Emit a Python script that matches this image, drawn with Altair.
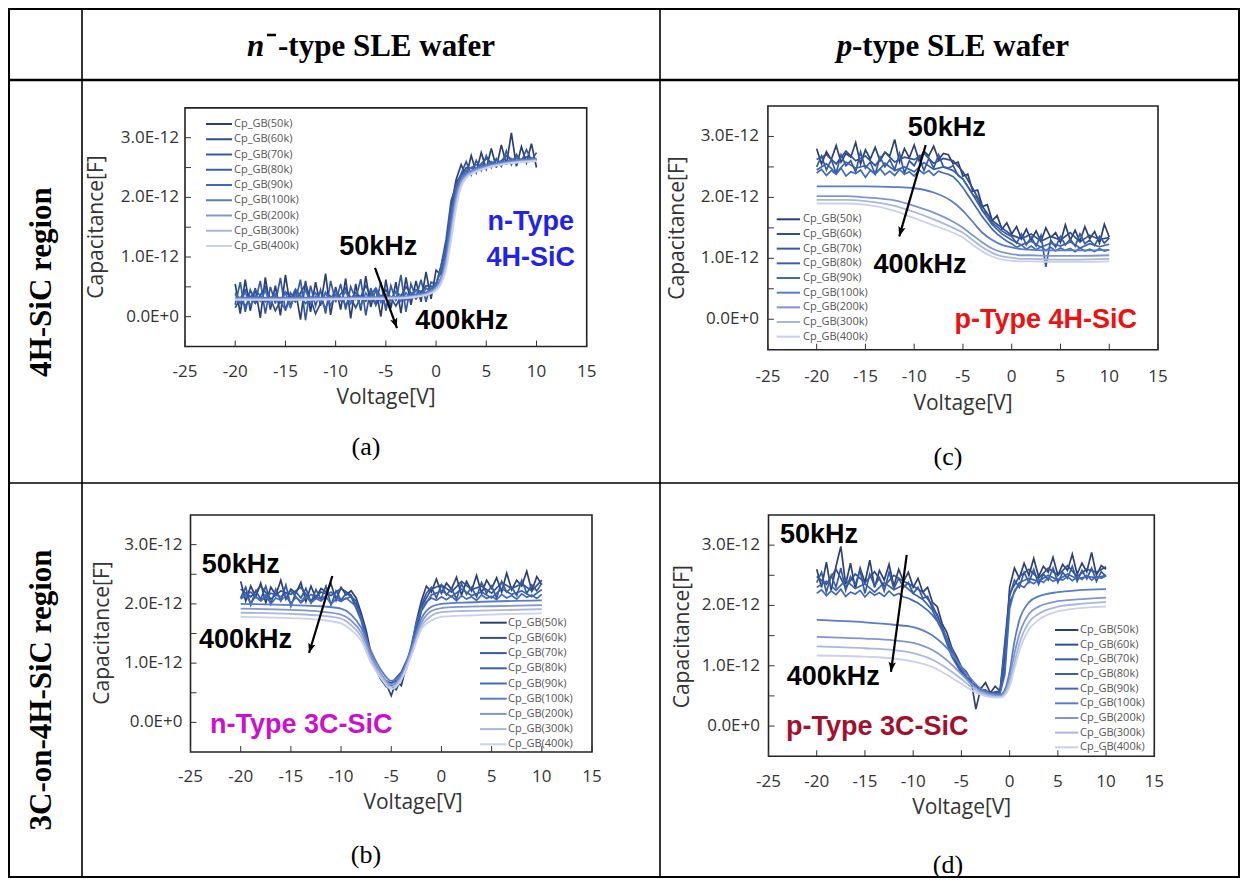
import math
import pandas as pd
import altair as alt

OFF = 8
W, H = 1232, 870

FREQS = ["Cp_GB(50k)", "Cp_GB(60k)", "Cp_GB(70k)", "Cp_GB(80k)", "Cp_GB(90k)",
         "Cp_GB(100k)", "Cp_GB(200k)", "Cp_GB(300k)", "Cp_GB(400k)"]
COLORS = ["#2b3f73", "#2f4f8f", "#3559a3", "#3a5fae", "#4169b8",
          "#5a7cc4", "#8196cf", "#a9b6de", "#c9d1ec"]

XTICK_VALUES = [-25, -20, -15, -10, -5, 0, 5, 10, 15]
XTICK_LABELS = ["-25", "-20", "-15", "-10", "-5", "0", "5", "10", "15"]
YTICK_VALUES = [0, 1, 2, 3]
YTICK_LABELS = ["0.0E+0", "1.0E-12", "2.0E-12", "3.0E-12"]
YTICK_MINOR = [0, 0.5, 1, 1.5, 2, 2.5, 3]

V_HALF = [-20, -19.5, -19, -18.5, -18, -17.5, -17, -16.5, -16, -15.5, -15, -14.5, -14, -13.5,
          -13, -12.5, -12, -11.5, -11, -10.5, -10, -9.5, -9, -8.5, -8, -7.5, -7, -6.5, -6, -5.5,
          -5, -4.5, -4, -3.5, -3, -2.5, -2, -1.5, -1, -0.5, 0, 0.5, 1, 1.5, 2, 2.5, 3, 3.5, 4,
          4.5, 5, 5.5, 6, 6.5, 7, 7.5, 8, 8.5, 9, 9.5, 10]
V_ONE = [-20, -19, -18, -17, -16, -15, -14, -13, -12, -11, -10, -9, -8, -7, -6, -5, -4, -3, -2,
         -1, 0, 1, 2, 3, 4, 5, 6, 7, 8, 9, 10]

# ---------------- (a) n-type 4H-SiC  (values in pF) ----------------
A_50K = [0.55, 0.05, 0.62, 0.10, 0.48, -0.02, 0.66, 0.12, 0.52, 0.02,
         0.70, 0.15, 0.45, -0.05, 0.60, 0.08, 0.58, 0.18, 0.72, 0.03,
         0.50, 0.12, 0.64, -0.03, 0.55, 0.10, 0.68, 0.16, 0.48, 0.00,
         0.62, 0.14, 0.58, 0.06, 0.66, 0.20, 0.60, 0.25, 0.75, 0.30,
         0.78, 0.70, 1.15, 1.85, 2.30, 2.55, 2.35, 2.70, 2.42, 2.75,
         2.48, 2.82, 2.50, 2.88, 2.55, 3.08, 2.52, 2.85, 2.58, 2.90, 2.50]
A_60K = [0.15, 0.45, 0.22, 0.50, 0.10, 0.42, 0.25, 0.55, 0.05, 0.40, 0.28, 0.48, 0.15, 0.52,
         0.20, 0.45, 0.18, 0.50, 0.30, 0.52, 0.50, 1.20, 2.25, 2.50, 2.48, 2.65, 2.52, 2.70,
         2.58, 2.68, 2.62]
A_70K = [0.20, 0.58, 0.08, 0.45, 0.25, 0.60, 0.05, 0.50, 0.22, 0.65,
         0.10, 0.40, 0.28, 0.62, -0.06, 0.52, 0.18, 0.45, 0.05, 0.60,
         0.24, 0.55, 0.12, 0.50, 0.30, 0.63, 0.02, 0.48, 0.20, 0.58,
         0.10, 0.52, 0.26, 0.70, 0.08, 0.55, 0.32, 0.62, 0.25, 0.58,
         0.55, 0.85, 1.30, 1.95, 2.20, 2.40, 2.60, 2.38, 2.62, 2.45,
         2.70, 2.50, 2.65, 2.52, 2.78, 2.55, 2.72, 2.60, 2.80, 2.62, 2.75]
A_80K = [0.40, 0.18, 0.45, 0.25, 0.38, 0.12, 0.46, 0.22, 0.40, 0.15, 0.44, 0.20, 0.40, 0.26,
         0.48, 0.18, 0.42, 0.28, 0.45, 0.40, 0.55, 1.05, 2.15, 2.45, 2.55, 2.50, 2.62, 2.56,
         2.66, 2.60, 2.64]
A_90K = [0.38, 0.22, 0.42, 0.18, 0.35, 0.26, 0.44, 0.20, 0.36, 0.24,
         0.40, 0.16, 0.38, 0.28, 0.45, 0.21, 0.34, 0.25, 0.41, 0.19,
         0.37, 0.27, 0.43, 0.22, 0.35, 0.18, 0.40, 0.26, 0.44, 0.24,
         0.38, 0.28, 0.42, 0.26, 0.40, 0.30, 0.45, 0.33, 0.48, 0.42,
         0.55, 0.78, 1.12, 1.75, 2.18, 2.35, 2.45, 2.50, 2.48, 2.56,
         2.52, 2.60, 2.55, 2.62, 2.58, 2.65, 2.60, 2.64, 2.62, 2.66, 2.63]
A_VS = [-20, -15, -10, -5, -3, -2, -1, -0.5, 0, 0.5, 1, 1.5, 2, 2.5, 3, 4, 5, 7, 10]
A_100K = [0.32, 0.32, 0.32, 0.33, 0.34, 0.36, 0.40, 0.44, 0.50, 0.66, 0.98, 1.55, 2.05, 2.30, 2.40, 2.48, 2.53, 2.60, 2.65]
A_200K = [0.30, 0.30, 0.31, 0.32, 0.33, 0.35, 0.38, 0.42, 0.48, 0.62, 0.92, 1.45, 1.98, 2.26, 2.37, 2.46, 2.51, 2.58, 2.63]
A_300K = [0.29, 0.29, 0.30, 0.31, 0.32, 0.34, 0.37, 0.40, 0.46, 0.58, 0.86, 1.36, 1.90, 2.22, 2.34, 2.44, 2.50, 2.57, 2.62]
A_400K = [0.28, 0.28, 0.29, 0.30, 0.31, 0.33, 0.36, 0.39, 0.44, 0.55, 0.80, 1.28, 1.82, 2.18, 2.32, 2.43, 2.49, 2.56, 2.61]

# ---------------- (c) p-type 4H-SiC ----------------
C_50K = [2.80, 2.55, 2.75, 2.62, 2.85, 2.58, 2.72, 2.66, 2.90, 2.55,
         2.78, 2.63, 2.82, 2.60, 2.74, 2.68, 2.95, 2.58, 2.80, 2.65,
         2.86, 2.60, 2.76, 2.68, 2.84, 2.62, 2.72,
         2.70, 2.55, 2.58, 2.35, 2.38, 2.10, 2.12, 1.85, 1.88, 1.62, 1.70, 1.48, 1.58,
         1.40, 1.52, 1.32, 1.48, 1.30, 1.45, 1.28, 1.50, 1.34, 1.42,
         1.26, 1.55, 1.30, 1.46, 1.28, 1.52, 1.32, 1.44, 1.25, 1.56, 1.35]
C_60K = [2.62, 2.70, 2.55, 2.76, 2.60, 2.68, 2.52, 2.74, 2.58, 2.66, 2.62, 2.72, 2.56, 2.64,
         2.60, 2.42, 2.15, 1.85, 1.62, 1.50, 1.38,
         1.32, 1.40, 1.28, 1.36, 1.30, 1.42, 1.27, 1.38, 1.31, 1.34]
C_70K = [2.50, 2.68, 2.45, 2.62, 2.40, 2.70, 2.52, 2.60, 2.42, 2.75,
         2.48, 2.58, 2.38, 2.66, 2.50, 2.62, 2.45, 2.72, 2.40, 2.60,
         2.52, 2.68, 2.44, 2.64, 2.48, 2.70, 2.50,
         2.48, 2.52, 2.36, 2.30, 2.18, 2.05, 1.98, 1.78, 1.72, 1.58, 1.52, 1.45, 1.40,
         1.36, 1.25, 1.40, 1.22, 1.35, 1.20, 1.38, 0.86, 1.30, 1.18,
         1.36, 1.22, 1.32, 1.20, 1.40, 1.24, 1.30, 1.21, 1.36, 1.25, 1.33]
C_80K = [2.45, 2.55, 2.40, 2.58, 2.48, 2.52, 2.38, 2.56, 2.44, 2.50, 2.42, 2.57, 2.46, 2.50,
         2.44, 2.30, 2.05, 1.78, 1.55, 1.40, 1.30,
         1.22, 1.28, 1.18, 1.25, 1.20, 1.27, 1.17, 1.24, 1.19, 1.23]
C_90K = [2.40, 2.46, 2.36, 2.44, 2.38, 2.48, 2.35, 2.42, 2.39, 2.45,
         2.33, 2.44, 2.40, 2.47, 2.37, 2.43, 2.36, 2.46, 2.38, 2.42,
         2.35, 2.45, 2.39, 2.44, 2.36, 2.43, 2.40,
         2.38, 2.34, 2.26, 2.16, 2.04, 1.92, 1.80, 1.68, 1.58, 1.48, 1.40, 1.34, 1.28,
         1.24, 1.18, 1.22, 1.15, 1.20, 1.14, 1.19, 1.13, 1.18, 1.12,
         1.17, 1.13, 1.16, 1.11, 1.17, 1.12, 1.15, 1.11, 1.16, 1.12, 1.14]
C_VS = [-20, -17, -15, -12, -10, -8, -6, -5, -4, -3, -2, -1, 0, 1, 2, 4, 7, 10]
C_100K = [2.18, 2.18, 2.18, 2.17, 2.15, 2.08, 1.92, 1.78, 1.60, 1.42, 1.30, 1.22, 1.18, 1.15, 1.14, 1.13, 1.13, 1.14]
C_200K = [2.02, 2.02, 2.00, 1.95, 1.86, 1.75, 1.60, 1.50, 1.38, 1.26, 1.16, 1.10, 1.07, 1.05, 1.05, 1.04, 1.04, 1.05]
C_300K = [1.96, 1.96, 1.94, 1.86, 1.76, 1.64, 1.50, 1.42, 1.30, 1.18, 1.09, 1.03, 1.01, 0.99, 0.99, 0.98, 0.98, 0.99]
C_400K = [1.90, 1.90, 1.88, 1.78, 1.66, 1.54, 1.42, 1.34, 1.22, 1.11, 1.03, 0.98, 0.96, 0.95, 0.95, 0.94, 0.94, 0.95]

# ---------------- (b) n-type 3C-SiC ----------------
B_50K = [2.38, 2.05, 2.30, 2.12, 2.35, 2.02, 2.28, 2.15, 2.40, 2.08,
         2.25, 2.18, 2.36, 2.04, 2.30, 2.10, 2.26, 2.20, 2.34, 2.06, 2.28, 2.15, 2.22,
         2.10, 1.85, 1.55, 1.15, 0.95, 0.80, 0.65, 0.45, 0.70, 0.62, 0.95, 1.25, 1.70, 2.05,
         2.30, 2.20, 2.42, 2.18, 2.35, 2.25, 2.45, 2.15, 2.38, 2.22,
         2.48, 2.18, 2.40, 2.26, 2.44, 2.20, 2.52, 2.24, 2.40, 2.30, 2.55, 2.22, 2.46, 2.32]
B_60K = [2.25, 2.12, 2.30, 2.08, 2.22, 2.16, 2.28, 2.05, 2.20, 2.14, 2.26, 2.15,
         1.80, 1.08, 0.75, 0.66, 0.85, 1.22, 1.95,
         2.25, 2.32, 2.20, 2.38, 2.24, 2.30, 2.18, 2.36, 2.26, 2.34, 2.22, 2.40]
B_70K = [2.10, 2.28, 1.98, 2.22, 2.08, 2.30, 2.00, 2.25, 2.05, 2.32,
         1.96, 2.20, 2.10, 2.26, 2.02, 2.24, 2.08, 2.30, 1.98, 2.22, 2.06, 2.18, 2.12,
         2.05, 1.78, 1.45, 1.10, 0.88, 0.72, 0.60, 0.62, 0.55, 0.75, 0.90, 1.20, 1.62, 1.98,
         2.18, 2.28, 2.10, 2.32, 2.15, 2.26, 2.08, 2.34, 2.16, 2.28,
         2.12, 2.36, 2.18, 2.30, 2.10, 2.38, 2.20, 2.28, 2.14, 2.40, 2.18, 2.32, 2.22, 2.35]
B_80K = [2.10, 2.20, 2.05, 2.18, 2.12, 2.22, 2.02, 2.16, 2.08, 2.20, 2.06, 2.12,
         1.72, 1.05, 0.72, 0.62, 0.80, 1.15, 1.88,
         2.15, 2.22, 2.12, 2.25, 2.14, 2.20, 2.10, 2.26, 2.16, 2.22, 2.12, 2.24]
B_90K = [2.08, 2.14, 2.02, 2.12, 2.05, 2.15, 2.00, 2.10, 2.06, 2.13,
         2.01, 2.11, 2.04, 2.14, 2.02, 2.09, 2.05, 2.12, 2.00, 2.08, 2.04, 2.10, 2.03,
         1.96, 1.75, 1.45, 1.12, 0.90, 0.75, 0.66, 0.62, 0.66, 0.78, 0.98, 1.30, 1.68, 1.92,
         2.04, 2.10, 2.06, 2.12, 2.07, 2.13, 2.05, 2.14, 2.08, 2.12,
         2.06, 2.15, 2.09, 2.13, 2.07, 2.16, 2.10, 2.14, 2.08, 2.17, 2.11, 2.15, 2.09, 2.16]
B_VS = [-20, -15, -12, -10, -9, -8, -7, -6, -5, -4, -3, -2, -1, 0, 2, 5, 10]
B_100K = [2.00, 1.98, 1.96, 1.92, 1.82, 1.60, 1.20, 0.88, 0.70, 0.82, 1.25, 1.75, 1.95, 2.00, 2.02, 2.04, 2.06]
B_200K = [1.92, 1.90, 1.87, 1.82, 1.72, 1.52, 1.12, 0.82, 0.64, 0.78, 1.20, 1.68, 1.88, 1.93, 1.95, 1.96, 1.98]
B_300K = [1.85, 1.83, 1.80, 1.75, 1.64, 1.45, 1.05, 0.78, 0.60, 0.74, 1.15, 1.62, 1.80, 1.86, 1.88, 1.89, 1.91]
B_400K = [1.78, 1.76, 1.73, 1.67, 1.56, 1.38, 1.00, 0.74, 0.56, 0.72, 1.12, 1.57, 1.72, 1.78, 1.80, 1.82, 1.84]

# ---------------- (d) p-type 3C-SiC ----------------
D_50K = [2.60, 2.30, 2.72, 2.25, 2.65, 2.98, 2.35, 2.70, 2.28, 2.62,
         2.38, 2.75, 2.30, 2.58, 2.42, 2.68, 2.32, 2.60, 2.40,
         2.55, 2.30, 2.45, 2.22, 2.30, 2.05, 1.98, 1.70, 1.55, 1.30,
         1.15, 0.98, 0.90, 0.76, 0.28, 0.62, 0.72, 0.55, 0.66, 0.58,
         1.10, 2.30, 2.62, 2.45, 2.70, 2.50, 2.78, 2.48, 2.65, 2.55,
         2.80, 2.50, 2.68, 2.58, 2.85, 2.52, 2.70, 2.56, 2.88, 2.50, 2.66, 2.60]
D_60K = [2.48, 2.35, 2.60, 2.30, 2.52, 2.38, 2.56, 2.32, 2.50, 2.40,
         2.32, 2.22, 2.00, 1.65, 1.22, 0.92, 0.72, 0.62, 0.55, 0.58,
         2.20, 2.48, 2.60, 2.45, 2.62, 2.50, 2.66, 2.48, 2.60, 2.55, 2.64]
D_70K = [2.38, 2.55, 2.22, 2.50, 2.30, 2.62, 2.25, 2.48, 2.35, 2.58,
         2.20, 2.52, 2.32, 2.46, 2.24, 2.55, 2.28, 2.45, 2.30,
         2.38, 2.20, 2.30, 2.12, 2.15, 1.95, 1.85, 1.62, 1.45, 1.22,
         1.05, 0.92, 0.80, 0.70, 0.66, 0.58, 0.60, 0.52, 0.55, 0.56,
         0.95, 2.15, 2.42, 2.30, 2.55, 2.38, 2.60, 2.35, 2.52, 2.42,
         2.62, 2.38, 2.55, 2.45, 2.65, 2.40, 2.58, 2.44, 2.62, 2.40, 2.56, 2.48]
D_80K = [2.30, 2.40, 2.25, 2.42, 2.28, 2.36, 2.22, 2.38, 2.26, 2.34,
         2.20, 2.10, 1.92, 1.58, 1.15, 0.88, 0.70, 0.60, 0.54, 0.55,
         2.05, 2.38, 2.45, 2.40, 2.50, 2.42, 2.52, 2.44, 2.48, 2.46, 2.50]
D_90K = [2.20, 2.26, 2.16, 2.24, 2.18, 2.27, 2.15, 2.22, 2.19, 2.25,
         2.14, 2.23, 2.17, 2.21, 2.15, 2.24, 2.16, 2.20, 2.14,
         2.12, 2.08, 2.04, 1.98, 1.92, 1.84, 1.74, 1.60, 1.45, 1.28,
         1.10, 0.95, 0.82, 0.72, 0.64, 0.58, 0.54, 0.52, 0.52, 0.54,
         0.85, 1.95, 2.25, 2.34, 2.30, 2.40, 2.36, 2.43, 2.38, 2.46,
         2.40, 2.44, 2.42, 2.48, 2.41, 2.47, 2.43, 2.50, 2.42, 2.48, 2.45, 2.49]
D_VS = [-20, -15, -12, -10, -8, -6, -5, -4, -3, -2, -1, -0.5, 0, 0.5, 1, 2, 3, 5, 7, 10]
D_100K = [1.76, 1.72, 1.68, 1.64, 1.50, 1.20, 0.98, 0.78, 0.62, 0.54, 0.52, 0.60, 0.90, 1.40, 1.75, 2.05, 2.15, 2.22, 2.25, 2.27]
D_200K = [1.48, 1.45, 1.42, 1.38, 1.26, 1.02, 0.86, 0.70, 0.58, 0.52, 0.50, 0.56, 0.80, 1.20, 1.52, 1.86, 1.98, 2.07, 2.10, 2.13]
D_300K = [1.32, 1.29, 1.26, 1.21, 1.10, 0.90, 0.78, 0.65, 0.55, 0.50, 0.48, 0.53, 0.72, 1.05, 1.36, 1.72, 1.86, 1.98, 2.02, 2.06]
D_400K = [1.17, 1.15, 1.12, 1.07, 0.98, 0.80, 0.70, 0.60, 0.52, 0.48, 0.47, 0.51, 0.66, 0.95, 1.24, 1.60, 1.76, 1.90, 1.95, 1.98]

# arrows: [V_start, C_start, V_end, C_end] in data units
A_ARROW = [-6.08, 0.82, -3.89, -0.19]
C_ARROW = [-8.82, 2.86, -11.53, 1.36]
B_ARROW = [-10.87, 2.47, -13.19, 1.17]
D_ARROW = [-10.67, 2.84, -12.30, 0.90]

NAVY = "#333333"
SANS = "Open Sans"
BOLD = "Liberation Sans"
SERIF = "Liberation Serif"


def series(vh, vo, vs, s50, s60, s70, s80, s90, s100, s200, s300, s400):
    return [(FREQS[0], vh, s50, True), (FREQS[1], vo, s60, True), (FREQS[2], vh, s70, True),
            (FREQS[3], vo, s80, True), (FREQS[4], vh, s90, True), (FREQS[5], vs, s100, False),
            (FREQS[6], vs, s200, False), (FREQS[7], vs, s300, False), (FREQS[8], vs, s400, False)]


PANELS = [
    dict(x0=185, x1=586.7, yb=346.5, yt=107.9, xl_y=371.7, yl_dx=6,
         vt=(386, 397.5), ct=(97, 227), lg=(124, 246, 206, 232, 234),
         arrow=A_ARROW,
         series=series(V_HALF, V_ONE, A_VS, A_50K, A_60K, A_70K, A_80K, A_90K, A_100K, A_200K, A_300K, A_400K),
         notes=[("50kHz", 378.3, 246.7, "center", "black"), ("400kHz", 461.7, 320.7, "center", "black"),
                ("n-Type", 530.7, 221.7, "center", "#2323e8"), ("4H-SiC", 530.7, 258.3, "center", "#2323e8")]),
    dict(x0=767.9, x1=1158, yb=349.7, yt=106.0, xl_y=376.7, yl_dx=9,
         vt=(963, 404), ct=(678, 228), lg=(219.3, 336.7, 776.7, 800, 803),
         arrow=C_ARROW,
         series=series(V_HALF, V_ONE, C_VS, C_50K, C_60K, C_70K, C_80K, C_90K, C_100K, C_200K, C_300K, C_400K),
         notes=[("50kHz", 946.7, 128, "center", "black"), ("400kHz", 920, 265, "center", "black"),
                ("p-Type 4H-SiC", 1045.7, 320, "center", "#ee1111")]),
    dict(x0=190.5, x1=592, yb=752, yt=515, xl_y=777, yl_dx=8,
         vt=(413, 803), ct=(103, 633), lg=(622.7, 744.3, 480, 506.7, 508),
         arrow=B_ARROW,
         series=series(V_HALF, V_ONE, B_VS, B_50K, B_60K, B_70K, B_80K, B_90K, B_100K, B_200K, B_300K, B_400K),
         notes=[("50kHz", 201.7, 565, "left", "black"), ("400kHz", 199, 640, "left", "black"),
                ("n-Type 3C-SiC", 210, 725, "left", "#cc11cc")]),
    dict(x0=768.5, x1=1154.3, yb=756.2, yt=515, xl_y=781.5, yl_dx=8.5,
         vt=(961.7, 808), ct=(683, 636.7), lg=(630, 747.3, 1055, 1078.3, 1080),
         arrow=D_ARROW,
         series=series(V_HALF, V_ONE, D_VS, D_50K, D_60K, D_70K, D_80K, D_90K, D_100K, D_200K, D_300K, D_400K),
         notes=[("50kHz", 780, 535, "left", "black"), ("400kHz", 786.7, 676.7, "left", "black"),
                ("p-Type 3C-SiC", 786, 726.7, "left", "#a3102e")]),
]

COLOR_SCALE = alt.Scale(domain=FREQS, range=COLORS)
ARROW_PATH = "M0,0L-0.38,1L0,0.8L0.38,1Z"


def one(**kw):
    return pd.DataFrame({k: [v] for k, v in kw.items()})


def label(text, x, y, size, font, color="black", weight="normal", style="normal",
          align="center", baseline="middle", angle=0):
    m = dict(font=font, fontSize=size, color=color, fontWeight=weight, fontStyle=style,
             align=align, baseline=baseline)
    if angle:
        m["angle"] = angle
    return alt.Chart(one(t=text)).mark_text(**m).encode(
        x=alt.value(x - OFF), y=alt.value(y - OFF), text="t:N")


def panel_layers(p):
    xsc = alt.Scale(domain=[-25, 15], range=[p["x0"] - OFF, p["x1"] - OFF], nice=False, zero=False)
    ysc = alt.Scale(domain=[-0.5, 3.5], range=[p["yb"] - OFF, p["yt"] - OFF], nice=False, zero=False)

    def X(f):
        return alt.X(f, type="quantitative", scale=xsc, axis=None)

    def Y(f):
        return alt.Y(f, type="quantitative", scale=ysc, axis=None)

    layers = []
    for freq, vs, cs, noisy in p["series"]:
        n = min(len(vs), len(cs))
        df = pd.DataFrame({"V": vs[:n], "C": cs[:n], "f": [freq] * n})
        mk = dict(strokeWidth=1.7 if noisy else 1.8, clip=True)
        if not noisy:
            mk["interpolate"] = "monotone"
        layers.append(alt.Chart(df).mark_line(**mk).encode(
            x=X("V"), y=Y("C"),
            color=alt.Color("f:N", scale=COLOR_SCALE, legend=None)))

    # frame
    layers.append(alt.Chart(one(a=-25, b=15, c=-0.5, d=3.5)).mark_rect(
        fillOpacity=0, stroke="#222222", strokeWidth=1.6).encode(
        x=X("a"), x2="b", y=Y("c"), y2="d"))
    # ticks
    layers.append(alt.Chart(pd.DataFrame({"v": XTICK_VALUES})).mark_rule(
        color="#333333", strokeWidth=1).encode(
        x=X("v"), y=alt.value(p["yb"] - OFF - 6), y2=alt.value(p["yb"] - OFF)))
    layers.append(alt.Chart(pd.DataFrame({"c": YTICK_MINOR})).mark_rule(
        color="#333333", strokeWidth=1).encode(
        y=Y("c"), x=alt.value(p["x0"] - OFF), x2=alt.value(p["x0"] - OFF + 6)))
    # tick labels
    layers.append(alt.Chart(pd.DataFrame({"v": XTICK_VALUES, "t": XTICK_LABELS})).mark_text(
        font=SANS, fontSize=17, color=NAVY, baseline="middle").encode(
        x=X("v"), y=alt.value(p["xl_y"] - OFF), text="t:N"))
    layers.append(alt.Chart(pd.DataFrame({"c": YTICK_VALUES, "t": YTICK_LABELS})).mark_text(
        font=SANS, fontSize=17, color=NAVY, align="right", baseline="middle").encode(
        y=Y("c"), x=alt.value(p["x0"] - OFF - p["yl_dx"]), text="t:N"))
    # axis titles
    layers.append(label("Voltage[V]", p["vt"][0], p["vt"][1], 21, SANS, NAVY))
    layers.append(label("Capacitance[F]", p["ct"][0], p["ct"][1], 21, SANS, NAVY, angle=270))
    # legend
    y0, y1, sx0, sx1, lx = p["lg"]
    lsc = alt.Scale(type="point", domain=FREQS, range=[y0 - OFF, y1 - OFF], padding=0)
    ldf = pd.DataFrame({"f": FREQS})
    layers.append(alt.Chart(ldf).mark_rule(strokeWidth=2).encode(
        y=alt.Y("f:N", scale=lsc, axis=None),
        x=alt.value(sx0 - OFF), x2=alt.value(sx1 - OFF),
        color=alt.Color("f:N", scale=COLOR_SCALE, legend=None)))
    layers.append(alt.Chart(ldf).mark_text(
        font=SANS, fontSize=11, color="#555555", align="left", baseline="middle").encode(
        y=alt.Y("f:N", scale=lsc, axis=None), x=alt.value(lx - OFF), text="f:N"))
    # arrow
    v1, c1, v2, c2 = p["arrow"]
    layers.append(alt.Chart(one(v1=v1, c1=c1, v2=v2, c2=c2)).mark_rule(
        color="black", strokeWidth=2.2).encode(x=X("v1"), x2="v2", y=Y("c1"), y2="c2"))
    kx = (p["x1"] - p["x0"]) / 40.0
    ky = (p["yb"] - p["yt"]) / 4.0
    dx = (v2 - v1) * kx
    dy = -(c2 - c1) * ky
    ang = (math.degrees(math.atan2(dx, -dy)) + 360.0) % 360.0
    layers.append(alt.Chart(one(v2=v2, c2=c2)).mark_point(
        shape=ARROW_PATH, size=380, filled=True, color="black", opacity=1,
        strokeWidth=0, angle=ang).encode(x=X("v2"), y=Y("c2")))
    # annotations
    for text, x, y, align, color in p["notes"]:
        layers.append(label(text, x, y, 27, BOLD, color, weight="bold", align=align))
    return layers


layers = []
for p in PANELS:
    layers += panel_layers(p)

# table grid (decoration, pixel positions)
def hline(y, x0, x1, w):
    return alt.Chart(one(k=0)).mark_rule(color="black", strokeWidth=w).encode(
        x=alt.value(x0), x2=alt.value(x1), y=alt.value(y))


def vline(x, y0, y1, w):
    return alt.Chart(one(k=0)).mark_rule(color="black", strokeWidth=w).encode(
        y=alt.value(y0), y2=alt.value(y1), x=alt.value(x))


layers += [
    hline(1, 0, W, 2), hline(72, 0, W, 2.5), hline(475, 0, W, 1.6), hline(H - 1, 0, W, 2),
    vline(1, 0, H, 2), vline(74, 0, H, 1.6), vline(652, 0, H, 1.6), vline(W - 1, 0, H, 2),
]

# headers
layers += [
    label("n", 247, 56, 31, SERIF, weight="bold", style="italic", align="left", baseline="alphabetic"),
    alt.Chart(one(k=0)).mark_rule(color="black", strokeWidth=2.5).encode(
        x=alt.value(267 - OFF), x2=alt.value(276 - OFF), y=alt.value(35 - OFF)),
    label("-type SLE wafer", 278, 56, 31, SERIF, weight="bold", align="left", baseline="alphabetic"),
    label("p", 836.7, 56, 31, SERIF, weight="bold", style="italic", align="left", baseline="alphabetic"),
    label("-type SLE wafer", 852, 56, 31, SERIF, weight="bold", align="left", baseline="alphabetic"),
    label("4H-SiC region", 42, 282, 31, SERIF, weight="bold", angle=270),
    label("3C-on-4H-SiC region", 42, 690, 31, SERIF, weight="bold", angle=270),
    label("(a)", 366, 447, 26, SERIF),
    label("(c)", 948, 457, 26, SERIF),
    label("(b)", 366, 855, 26, SERIF),
    label("(d)", 948, 865, 26, SERIF),
]

chart = alt.layer(*layers).resolve_scale(x="independent", y="independent").properties(
    width=W, height=H, autosize=alt.AutoSizeParams(type="none"), padding=0,
    background="white").configure_view(stroke=None)

chart.save("out.html", embed_options={"renderer": "svg", "actions": False})
